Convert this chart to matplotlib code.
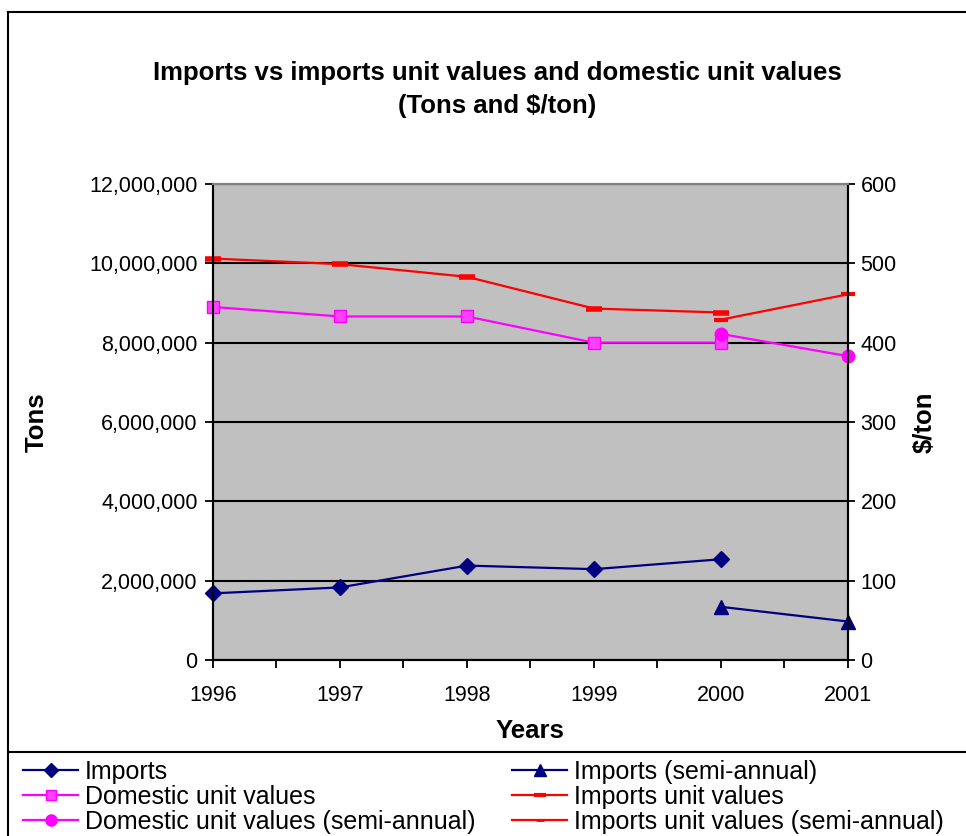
import matplotlib
matplotlib.use("Agg")
import matplotlib.pyplot as plt
from matplotlib.lines import Line2D
from matplotlib.ticker import FuncFormatter, MultipleLocator

plt.rcParams['font.family'] = ['Liberation Sans', 'DejaVu Sans']

# data
years = [1996, 1997, 1998, 1999, 2000]
semi_years = [2000, 2001]
imports = [1680000, 1830000, 2380000, 2290000, 2540000]
imports_semi = [1340000, 970000]
domestic_uv = [445, 433, 433, 400, 400]
domestic_uv_semi = [411, 383]
imports_uv = [506, 499, 483, 443, 438]
imports_uv_semi = [429, 461]

navy = '#000080'
magenta = '#FF00FF'
red = '#FF0000'

fig = plt.figure(figsize=(9.66, 8.36), dpi=100)
ax = fig.add_axes([213/966, 1-660/836, (848-213)/966, (660-184)/836])
ax2 = ax.twinx()

ax.set_facecolor('#C0C0C0')
ax.set_xlim(1996, 2001)
ax.set_ylim(0, 12000000)
ax2.set_ylim(0, 600)

# gridlines
ax.yaxis.set_major_locator(MultipleLocator(2000000))
ax.grid(axis='y', color='black', lw=1.5)
ax.set_axisbelow(True)

# left axis series
ax.plot(years, imports, color=navy, lw=1.6, marker='D', ms=8, clip_on=False, zorder=3)
ax.plot(semi_years, imports_semi, color=navy, lw=1.6, marker='^', ms=10, clip_on=False, zorder=3)

# right axis series
ax2.plot(years, domestic_uv, color=magenta, lw=1.6, marker='s', ms=9,
         mfc='#FF40FF', mec=magenta, clip_on=False)
ax2.plot(semi_years, domestic_uv_semi, color=magenta, lw=1.6, marker='o', ms=9, clip_on=False)
ax2.plot(years, imports_uv, color=red, lw=1.6, marker='_', ms=12, mew=4, clip_on=False)
ax2.plot(semi_years, imports_uv_semi, color=red, lw=1.6, marker='_', ms=10, mew=3, clip_on=False)

# axes styling
for a in (ax, ax2):
    a.spines['top'].set_color('#808080')
    a.spines['top'].set_linewidth(1.5)
    a.spines['left'].set_linewidth(1.5)
    a.spines['right'].set_linewidth(1.5)
    a.spines['bottom'].set_linewidth(1.5)

ax.set_xticks(years + [2001])
ax.xaxis.set_minor_locator(MultipleLocator(0.5))
ax.tick_params(axis='x', which='both', direction='out', length=6, width=1.3, labelsize=15.5, pad=12)
ax.tick_params(axis='y', direction='out', length=6, width=1.3, labelsize=15.5, pad=5)
ax2.tick_params(axis='y', direction='inout', length=10, width=1.3, labelsize=15.5, pad=4)
ax2.yaxis.set_major_locator(MultipleLocator(100))
ax.yaxis.set_major_formatter(FuncFormatter(lambda v, p: f'{int(v):,}'))

ax.set_xlabel('Years', fontsize=18.5, fontweight='bold')
ax.xaxis.set_label_coords(0.5, -(731-660)/476)
ax.xaxis.label.set_va('center')
ax.set_ylabel('Tons', fontsize=18.5, fontweight='bold')
ax.yaxis.set_label_coords(-(213-37)/635, 0.5)
ax.yaxis.label.set_va('center')
ax2.set_ylabel('$/ton', fontsize=18.5, fontweight='bold')
ax2.yaxis.set_label_coords(1+(925-848)/635, 0.5)
ax2.yaxis.label.set_va('center')

fig.text(497/966, 1-73/836, 'Imports vs imports unit values and domestic unit values',
         ha='center', va='center', fontsize=18.5, fontweight='bold')
fig.text(497/966, 1-106/836, '(Tons and $/ton)',
         ha='center', va='center', fontsize=18.5, fontweight='bold')

# frame lines of the chart area and legend box
fig.add_artist(Line2D([8/966, 1], [1-12/836, 1-12/836], color='black', lw=1.5))
fig.add_artist(Line2D([8/966, 8/966], [0, 1-12/836], color='black', lw=1.5))
fig.add_artist(Line2D([8/966, 1], [1-752/836, 1-752/836], color='black', lw=1.5))

# legend in two columns
h_imp = Line2D([], [], color=navy, lw=1.6, marker='D', ms=7)
h_dom = Line2D([], [], color=magenta, lw=1.6, marker='s', ms=7, mfc='#FF40FF')
h_doms = Line2D([], [], color=magenta, lw=1.6, marker='o', ms=8)
h_imps = Line2D([], [], color=navy, lw=1.6, marker='^', ms=8)
h_uv = Line2D([], [], color=red, lw=1.6, marker='_', ms=8, mew=3)
h_uvs = Line2D([], [], color=red, lw=1.6, marker='_', ms=6, mew=2)

leg_kw = dict(frameon=False, fontsize=18, handlelength=2.2, handletextpad=0.28,
              labelspacing=0.04, borderpad=0, borderaxespad=0, loc='upper left')
leg1 = fig.legend([h_imp, h_dom, h_doms],
                  ['Imports', 'Domestic unit values', 'Domestic unit values (semi-annual)'],
                  bbox_to_anchor=(23/966, 1-760/836), **leg_kw)
leg2 = fig.legend([h_imps, h_uv, h_uvs],
                  ['Imports (semi-annual)', 'Imports unit values', 'Imports unit values (semi-annual)'],
                  bbox_to_anchor=(512/966, 1-760/836), **leg_kw)

fig.savefig('out.png', dpi=100)
